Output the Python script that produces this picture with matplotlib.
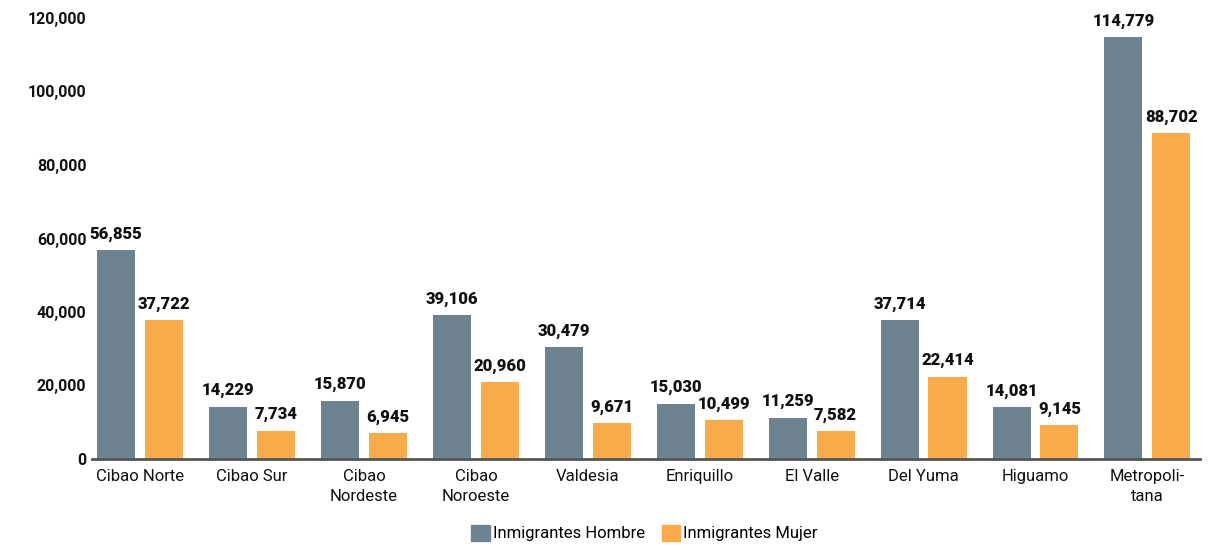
import numpy as np
import matplotlib.pyplot as plt
from matplotlib.patches import Patch

plt.rcParams['font.family'] = ['Roboto', 'DejaVu Sans']

regiones = ['Cibao Norte', 'Cibao Sur', 'Cibao\nNordeste', 'Cibao\nNoroeste', 'Valdesia',
            'Enriquillo', 'El Valle', 'Del Yuma', 'Higuamo', 'Metropoli-\ntana']
hombres = [56855, 14229, 15870, 39106, 30479, 15030, 11259, 37714, 14081, 114779]
mujeres = [37722, 7734, 6945, 20960, 9671, 10499, 7582, 22414, 9145, 88702]
yticks = [0, 20000, 40000, 60000, 80000, 100000, 120000]

c_h = '#6e8290'
c_m = '#f9ab4b'

fig = plt.figure(figsize=(12.23, 5.45), dpi=100)
ax = fig.add_axes([92 / 1223, 86 / 545, (1200 - 92) / 1223, (459 - 18) / 545])

x = np.arange(len(regiones))
w = 0.34
off = 0.214
b1 = ax.bar(x - off, hombres, width=w, color=c_h)
b2 = ax.bar(x + off, mujeres, width=w, color=c_m)

# etiquetas de valor sobre cada barra
for bars, vals in ((b1, hombres), (b2, mujeres)):
    for r, v in zip(bars, vals):
        ax.text(r.get_x() + r.get_width() / 2, v + 2300, f'{v:,}', ha='center', va='bottom',
                fontsize=12, fontweight='black', color='#111111', clip_on=False)

ax.set_xlim(-0.43, 9.47)
ax.set_ylim(0, 120000)
ax.set_yticks(yticks)
ax.set_yticklabels([f'{t:,}' for t in yticks], fontsize=11.5, fontweight='bold', color='#111111')
ax.set_xticks(x)
ax.set_xticklabels(regiones, fontsize=12, color='#111111', linespacing=1.45)
ax.tick_params(axis='both', length=0)
ax.tick_params(axis='y', pad=4)
ax.tick_params(axis='x', pad=7)
for s in ['top', 'right', 'left']:
    ax.spines[s].set_visible(False)
ax.spines['bottom'].set_color('#555555')
ax.spines['bottom'].set_linewidth(2)

handles = [Patch(color=c_h, label='Inmigrantes Hombre'), Patch(color=c_m, label='Inmigrantes Mujer')]
fig.legend(handles=handles, loc='center', bbox_to_anchor=(0.527, 12 / 545),
           ncol=2, frameon=False, fontsize=12, handlelength=1.1, handleheight=1.1,
           handletextpad=0.2, columnspacing=1.0)

fig.savefig('out.png', dpi=100)
